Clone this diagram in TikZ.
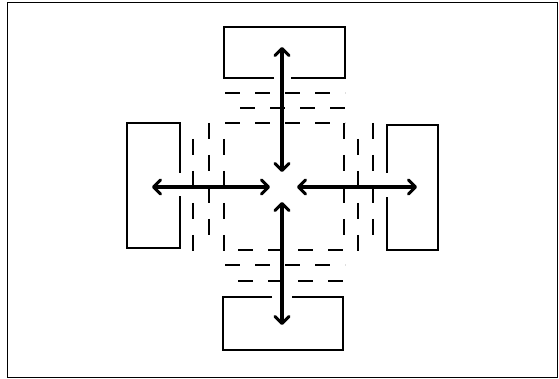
\documentclass[tikz,border=0pt]{standalone}
\usetikzlibrary{arrows.meta}
\begin{document}
\begin{tikzpicture}[x=1pt,y=-1pt,
  frame/.style={line width=1pt},
  boxline/.style={line width=1.7pt},
  hgrid/.style={line width=1.5pt, dash pattern=on 15pt off 15pt},
  vgrid/.style={line width=1.5pt, dash pattern=on 16pt off 16pt},
  tip/.tip={Straight Barb[length=7pt,width=14pt,line width=3pt,round]},
  arr/.style={line width=3.2pt, tip-tip}]
\useasboundingbox (0,0) rectangle (559,379);
% outer frame
\draw[frame] (7,3) rectangle (557.5,377.5);
% boxes (open where the arrows pass)
\draw[boxline] (274,78) -- (224,78) -- (224,27) -- (345,27) -- (345,78) -- (291,78);
\draw[boxline] (272,297) -- (223,297) -- (223,350) -- (343,350) -- (343,297) -- (292,297);
\draw[boxline] (180,173) -- (180,123) -- (127,123) -- (127,248) -- (180,248) -- (180,196);
\draw[boxline] (387,173) -- (387,125) -- (438,125) -- (438,250) -- (387,250) -- (387,197);
% dashed channels
\draw[hgrid] (225,93) -- (345,93);
\draw[hgrid, dash phase=15pt] (225,108) -- (345,108);
\draw[hgrid] (225,123) -- (345,123);
\draw[hgrid, dash phase=15pt] (223,250) -- (345,250);
\draw[hgrid] (225,265) -- (345,265);
\draw[hgrid, dash phase=15pt] (223,281) -- (345,281);
\draw[vgrid, dash phase=16pt] (193,123) -- (193,251);
\draw[vgrid] (209,123) -- (209,251);
\draw[vgrid, dash phase=16pt] (224,123) -- (224,251);
\draw[vgrid] (344,123) -- (344,251);
\draw[vgrid, dash phase=16pt] (358,123) -- (358,251);
\draw[vgrid] (373,123) -- (373,251);
% arrow end points
\coordinate (tA) at (282,47);  \coordinate (tB) at (282,172);
\coordinate (bA) at (282,202); \coordinate (bB) at (282,325);
\coordinate (lA) at (152,187); \coordinate (lB) at (270,187);
\coordinate (rA) at (297,187); \coordinate (rB) at (417,187);
\draw[arr] (tA) -- (tB);
\draw[arr] (bA) -- (bB);
\draw[arr] (lA) -- (lB);
\draw[arr] (rA) -- (rB);
\end{tikzpicture}
\end{document}
